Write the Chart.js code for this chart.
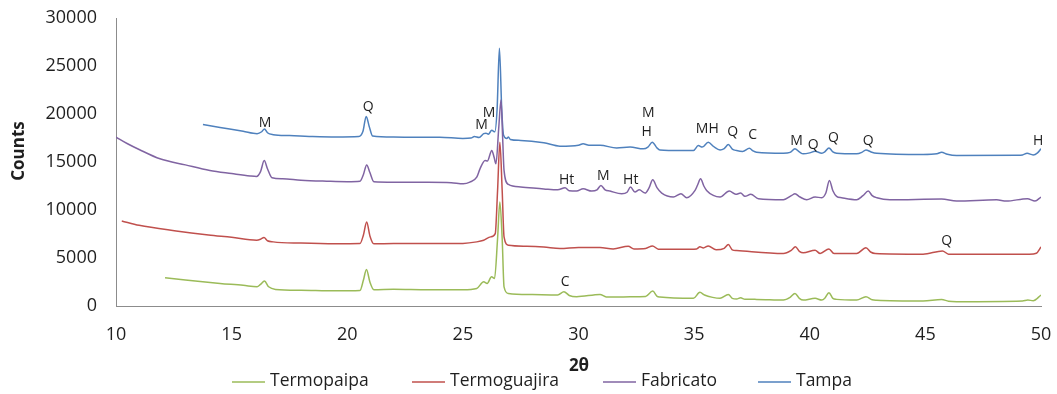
<!DOCTYPE html>
<html>
<head>
<meta charset="utf-8">
<script src="https://cdn.jsdelivr.net/npm/chart.js@4.4.1/dist/chart.umd.min.js"></script>
<style>
  html, body { margin: 0; padding: 0; background: #ffffff; }
  #wrap { width: 1057px; height: 394px; position: relative; }
</style>
</head>
<body>
<div id="wrap"><canvas id="xrdChart"></canvas></div>
<script>
// 2-theta positions and counts for each sample
const tampaTheta = [13.76, 14.5, 15.5, 16.1, 16.3, 16.42, 16.55, 16.8, 17.5, 18.5, 19.5, 20.5, 20.68, 20.82, 20.95, 21.1, 22.0, 23.0, 24.0, 25.0, 25.35, 25.5, 25.7, 25.9, 26.0, 26.1, 26.25, 26.38, 26.48, 26.58, 26.68, 26.76, 26.9, 26.97, 27.05, 27.5, 28.5, 29.2, 30.0, 30.2, 30.45, 30.93, 31.65, 32.23, 32.8, 33.0, 33.19, 33.4, 33.52, 34.5, 34.97, 35.18, 35.35, 35.61, 35.85, 36.12, 36.3, 36.48, 36.65, 36.84, 37.1, 37.39, 37.55, 37.7, 38.86, 39.15, 39.36, 39.55, 39.72, 40.0, 40.23, 40.52, 40.65, 40.83, 41.0, 41.16, 42.03, 42.25, 42.43, 42.65, 42.9, 44.9, 45.5, 45.7, 45.95, 46.35, 49.0, 49.2, 49.4, 49.66, 49.85, 50.0];
const tampaCounts = [18900, 18600, 18200, 17950, 18150, 18450, 18050, 17850, 17750, 17650, 17600, 17650, 18200, 19750, 18700, 17700, 17600, 17580, 17580, 17450, 17500, 17650, 17550, 17950, 18000, 17900, 18300, 18150, 20500, 26850, 20500, 17800, 17450, 17600, 17350, 17250, 17000, 16650, 16750, 16900, 16750, 16750, 16450, 16550, 16370, 16550, 17060, 16450, 16260, 16200, 16190, 16710, 16550, 17060, 16600, 16260, 16400, 16810, 16350, 16190, 16100, 16440, 16150, 16020, 15910, 16000, 16370, 16050, 15850, 15950, 16120, 15910, 16050, 16470, 16050, 15910, 15850, 16000, 16260, 16050, 15910, 15780, 15850, 16020, 15800, 15670, 15700, 15740, 15900, 15740, 15950, 16370];

const fabricatoTheta = [10.0, 10.5, 11.0, 11.9, 13.0, 14.06, 15.0, 15.8, 16.08, 16.25, 16.41, 16.55, 16.75, 17.2, 18.0, 19.11, 20.0, 20.55, 20.7, 20.84, 20.98, 21.15, 22.0, 23.5, 24.5, 25.02, 25.3, 25.6, 25.74, 25.96, 26.06, 26.25, 26.35, 26.43, 26.55, 26.65, 26.72, 26.78, 26.97, 27.5, 28.5, 29.1, 29.42, 29.6, 29.92, 30.2, 30.57, 30.8, 30.97, 31.15, 31.36, 31.87, 32.1, 32.25, 32.44, 32.63, 32.88, 33.05, 33.21, 33.4, 33.6, 34.1, 34.43, 34.68, 35.04, 35.15, 35.28, 35.42, 35.54, 35.83, 36.12, 36.52, 36.8, 37.01, 37.2, 37.45, 37.78, 38.86, 39.22, 39.36, 39.58, 39.87, 40.23, 40.52, 40.7, 40.85, 41.0, 41.16, 41.38, 42.03, 42.3, 42.53, 42.7, 42.9, 43.47, 45.7, 46.35, 48.08, 48.5, 49.41, 49.74, 50.0];
const fabricatoCounts = [17600, 16900, 16300, 15330, 14700, 14120, 13800, 13550, 13500, 14000, 15150, 14300, 13350, 13250, 13100, 13000, 12950, 13000, 13700, 14700, 13900, 12950, 12900, 12900, 12850, 12730, 12900, 13420, 14290, 15150, 15100, 16190, 15500, 14810, 18500, 21450, 17500, 14120, 12660, 12400, 12200, 12100, 12320, 12000, 11970, 12210, 11970, 12100, 12560, 12100, 11970, 11690, 11850, 12390, 11870, 12100, 11760, 12300, 13150, 12300, 11760, 11350, 11690, 11280, 12040, 12600, 13250, 12500, 12040, 11520, 11350, 11970, 11630, 11760, 11420, 11630, 11180, 11070, 11520, 11690, 11350, 11070, 11350, 11280, 11800, 13080, 12000, 11420, 11280, 11070, 11500, 11970, 11500, 11280, 11070, 11140, 10930, 11070, 10930, 11180, 10930, 11350];

const guajiraTheta = [10.25, 11.0, 12.6, 14.0, 15.0, 16.08, 16.25, 16.4, 16.55, 16.8, 18.0, 19.5, 20.55, 20.7, 20.84, 20.98, 21.15, 22.0, 23.5, 25.0, 25.6, 25.9, 26.2, 26.4, 26.5, 26.6, 26.7, 26.78, 26.97, 27.76, 28.5, 29.2, 30.0, 30.93, 31.5, 32.15, 32.4, 32.9, 33.2, 33.45, 34.5, 35.11, 35.25, 35.4, 35.61, 35.95, 36.3, 36.48, 36.65, 36.84, 38.86, 39.2, 39.38, 39.55, 39.72, 40.23, 40.45, 40.83, 41.05, 42.03, 42.43, 42.65, 42.83, 44.9, 45.74, 46.0, 49.5, 49.8, 50.0];
const guajiraCounts = [8860, 8400, 7820, 7400, 7150, 6850, 6950, 7130, 6800, 6680, 6550, 6480, 6500, 7400, 8750, 7300, 6480, 6500, 6500, 6520, 6680, 6850, 7200, 7540, 12000, 17060, 12000, 7200, 6330, 6230, 6150, 5990, 6100, 6090, 5950, 6230, 5950, 6000, 6260, 5920, 5900, 5950, 6160, 6050, 6260, 5850, 6000, 6400, 5850, 5780, 5470, 5800, 6160, 5700, 5540, 5810, 5470, 5950, 5470, 5470, 6060, 5600, 5470, 5400, 5740, 5400, 5400, 5500, 6160];

const paipaTheta = [12.12, 13.0, 14.5, 15.5, 16.1, 16.25, 16.42, 16.6, 16.9, 18.0, 19.5, 20.55, 20.7, 20.83, 20.98, 21.15, 22.0, 23.5, 25.0, 25.6, 25.9, 26.05, 26.24, 26.37, 26.5, 26.6, 26.7, 26.78, 26.97, 28.0, 29.1, 29.37, 29.6, 29.92, 30.93, 31.2, 31.65, 32.23, 32.9, 33.21, 33.4, 33.52, 34.97, 35.25, 35.45, 35.8, 36.12, 36.48, 36.65, 36.84, 37.01, 37.2, 37.7, 38.86, 39.15, 39.36, 39.55, 39.72, 40.23, 40.52, 40.65, 40.83, 41.0, 41.16, 42.03, 42.43, 42.7, 42.9, 44.9, 45.7, 46.0, 46.35, 49.2, 49.43, 49.66, 50.0];
const paipaCounts = [2940, 2700, 2350, 2150, 2000, 2250, 2600, 2000, 1730, 1650, 1590, 1620, 2700, 3810, 2500, 1700, 1750, 1700, 1700, 1830, 2520, 2350, 3040, 2870, 7000, 10830, 7000, 2000, 1310, 1200, 1150, 1490, 1100, 970, 1210, 950, 930, 970, 1000, 1560, 1000, 930, 800, 1420, 1140, 900, 800, 1210, 800, 730, 850, 700, 690, 620, 900, 1310, 800, 620, 800, 620, 800, 1380, 800, 690, 620, 970, 650, 600, 520, 690, 500, 450, 520, 620, 550, 1140];

const seriesNames = ['Termopaipa', 'Termoguajira', 'Fabricato', 'Tampa'];
const seriesColors = ['#9bbb59', '#c0504d', '#8064a2', '#4f81bd'];

// phase labels placed over the peaks
const phaseText = ['M', 'Q', 'M', 'M', 'M', 'H', 'MH', 'Q', 'C', 'M', 'Q', 'Q', 'Q', 'H', 'Ht', 'M', 'Ht', 'Q', 'C'];
const phaseTheta = [16.44, 20.91, 25.81, 26.13, 33.02, 32.95, 35.57, 36.67, 37.53, 39.43, 40.15, 41.02, 42.53, 49.88, 29.49, 31.07, 32.26, 45.92, 29.42];
const phaseCounts = [19030, 20760, 18860, 20070, 20070, 18090, 18440, 18090, 17850, 17160, 16820, 17510, 17230, 17230, 13150, 13490, 13080, 6780, 2520];

const xTicks = [10, 15, 20, 25, 30, 35, 40, 45, 50];

function toPoints(xs, ys) {
  return xs.map((x, i) => ({ x: x, y: ys[i] }));
}

const TEXT = '#1f1f1f';
const FONT = '"Open Sans"';
const TICK_FONT = { family: 'Open Sans', size: 18 };

// labels, axis titles and legend drawn on top of the plot
const overlayPlugin = {
  id: 'overlay',
  afterDatasetsDraw(chart) {
    const ctx = chart.ctx;
    const xs = chart.scales.x;
    const ys = chart.scales.y;
    ctx.save();
    ctx.fillStyle = TEXT;
    ctx.textAlign = 'center';
    ctx.textBaseline = 'middle';
    ctx.font = '14px ' + FONT;
    phaseText.forEach((t, i) => {
      ctx.fillText(t, xs.getPixelForValue(phaseTheta[i]), ys.getPixelForValue(phaseCounts[i]));
    });

    // axis titles
    ctx.font = 'bold 17px ' + FONT;
    ctx.fillText('2θ', 579, 366);
    ctx.save();
    ctx.translate(19, 151);
    ctx.rotate(-Math.PI / 2);
    ctx.fillText('Counts', 0, 0);
    ctx.restore();

    // legend row
    const legendX = [232, 412, 603, 758];
    const legendY = 382;
    ctx.textAlign = 'left';
    ctx.font = '17.5px ' + FONT;
    seriesNames.forEach((name, i) => {
      ctx.strokeStyle = seriesColors[i];
      ctx.lineWidth = 1.5;
      ctx.beginPath();
      ctx.moveTo(legendX[i], legendY);
      ctx.lineTo(legendX[i] + 33, legendY);
      ctx.stroke();
      ctx.fillStyle = TEXT;
      ctx.fillText(name, legendX[i] + 38, legendY - 1);
    });
    ctx.restore();
  }
};

const datasets = [
  [paipaTheta, paipaCounts],
  [guajiraTheta, guajiraCounts],
  [fabricatoTheta, fabricatoCounts],
  [tampaTheta, tampaCounts]
].map((pair, i) => ({
  label: seriesNames[i],
  data: toPoints(pair[0], pair[1]),
  borderColor: seriesColors[i],
  backgroundColor: seriesColors[i],
  borderWidth: 1.5,
  pointRadius: 0,
  cubicInterpolationMode: 'monotone',
  fill: false
}));

new Chart(document.getElementById('xrdChart'), {
  type: 'line',
  data: { datasets: datasets },
  options: {
    responsive: true,
    maintainAspectRatio: false,
    animation: false,
    devicePixelRatio: 1,
    layout: { padding: { left: 0, top: 18, right: 16, bottom: 0 } },
    plugins: {
      legend: { display: false },
      tooltip: { enabled: false }
    },
    scales: {
      x: {
        type: 'linear',
        min: 10,
        max: 50,
        afterBuildTicks: (scale) => { scale.ticks = xTicks.map(v => ({ value: v })); },
        afterFit: (scale) => {
          scale.height = 88;
          scale.paddingLeft = 0;
          scale.paddingRight = 0;
        },
        grid: { display: false, drawTicks: false },
        border: { display: true, color: '#8c8c8c', width: 1 },
        ticks: { font: TICK_FONT, color: TEXT, padding: 18, maxRotation: 0 }
      },
      y: {
        min: 0,
        max: 30000,
        afterFit: (scale) => {
          scale.width = 116;
          scale.paddingTop = 0;
          scale.paddingBottom = 0;
        },
        grid: { display: false, drawTicks: false },
        border: { display: true, color: '#8c8c8c', width: 1 },
        ticks: { stepSize: 5000, font: TICK_FONT, color: TEXT, padding: 19, callback: (v) => String(v) }
      }
    }
  },
  plugins: [overlayPlugin]
});
</script>
</body>
</html>
